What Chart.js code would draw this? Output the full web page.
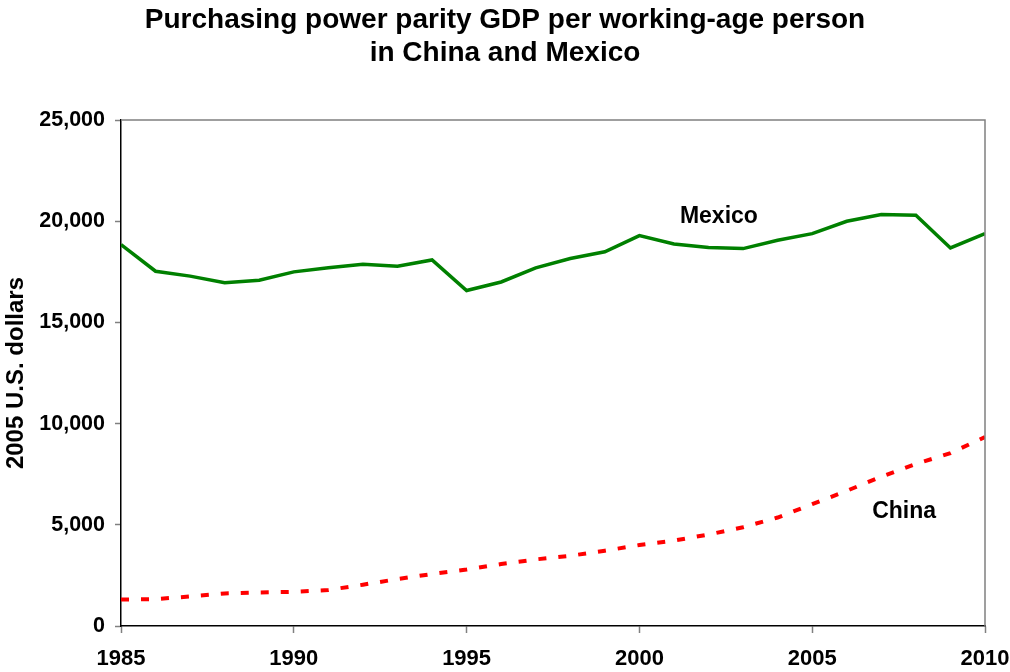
<!DOCTYPE html>
<html>
<head>
<meta charset="utf-8">
<script src="https://cdn.jsdelivr.net/npm/chart.js@4"></script>
<style>
  html, body { margin: 0; padding: 0; background: #fff; }
  #wrap { width: 1010px; height: 672px; }
</style>
</head>
<body>
<div id="wrap"><canvas id="myChart"></canvas></div>
<script>
// datos
const years = [1985, 1986, 1987, 1988, 1989, 1990, 1991, 1992, 1993, 1994, 1995, 1996, 1997,
  1998, 1999, 2000, 2001, 2002, 2003, 2004, 2005, 2006, 2007, 2008, 2009, 2010];
const mexico = [18850, 17530, 17290, 16960, 17090, 17500, 17700, 17880, 17780, 18090, 16580, 17000, 17700,
  18160, 18490, 19290, 18880, 18700, 18650, 19060, 19390, 20000, 20330, 20300, 18680, 19390];
const china = [1310, 1330, 1460, 1610, 1660, 1690, 1780, 2040, 2320, 2570, 2790, 3060, 3290,
  3470, 3720, 4000, 4220, 4520, 4880, 5360, 6020, 6680, 7380, 8010, 8540, 9340];
const seriesNames = ['Mexico', 'China'];
const labelPos = [[2002.3, 20250], [2007.66, 5650]]; // donde van los textos de las series
const yTicks = [0, 5000, 10000, 15000, 20000, 25000];
const xTicks = [1985, 1990, 1995, 2000, 2005, 2010];

const font = 'Liberation Sans, Arial, sans-serif';

// marco gris arriba y a la derecha + nombres de las series
const framePlugin = {
  id: 'framePlugin',
  afterDatasetsDraw(chart) {
    const { ctx, chartArea: a, scales } = chart;
    ctx.save();
    ctx.strokeStyle = '#808080';
    ctx.lineWidth = 1.5;
    ctx.beginPath();
    ctx.moveTo(a.left, a.top);
    ctx.lineTo(a.right, a.top);
    ctx.lineTo(a.right, a.bottom);
    ctx.stroke();

    ctx.fillStyle = '#000';
    ctx.font = 'bold 23px ' + font;
    ctx.textAlign = 'center';
    ctx.textBaseline = 'middle';
    seriesNames.forEach((name, i) => {
      const px = scales.x.getPixelForValue(labelPos[i][0]);
      const py = scales.y.getPixelForValue(labelPos[i][1]);
      ctx.fillText(name, px, py);
    });
    ctx.restore();
  }
};

const ctx = document.getElementById('myChart');
new Chart(ctx, {
  type: 'line',
  data: {
    datasets: [
      {
        label: seriesNames[0],
        data: years.map((y, i) => ({ x: y, y: mexico[i] })),
        borderColor: '#008000',
        borderWidth: 3.5,
        pointRadius: 0,
        tension: 0
      },
      {
        label: seriesNames[1],
        data: years.map((y, i) => ({ x: y, y: china[i] })),
        borderColor: '#ff0000',
        borderWidth: 4,
        borderDash: [8, 12],
        pointRadius: 0,
        tension: 0
      }
    ]
  },
  options: {
    responsive: true,
    maintainAspectRatio: false,
    animation: false,
    layout: { padding: { left: 0, right: 0, top: 0, bottom: 0 } },
    plugins: {
      legend: { display: false },
      tooltip: { enabled: false },
      title: {
        display: true,
        text: ['Purchasing power parity GDP per working-age person', 'in China and Mexico'],
        color: '#000',
        font: { family: font, size: 28, weight: 'bold', lineHeight: 1.18 },
        padding: { top: 4, bottom: 50 }
      }
    },
    scales: {
      x: {
        type: 'linear',
        min: 1985,
        max: 2010,
        afterBuildTicks: s => { s.ticks = xTicks.map(v => ({ value: v })); },
        afterFit: s => { s.height = 46; s.paddingRight = 25; },
        border: { color: '#000', width: 1.5 },
        grid: { drawOnChartArea: false, color: '#808080', tickLength: 7, tickWidth: 1.5 },
        ticks: {
          color: '#000',
          padding: 13,
          maxRotation: 0,
          font: { family: font, size: 22, weight: 'bold' },
          callback: v => String(v)
        }
      },
      y: {
        min: 0,
        max: 25000,
        afterBuildTicks: s => { s.ticks = yTicks.map(v => ({ value: v })); },
        afterFit: s => { s.width = 121; },
        border: { color: '#000', width: 1.5 },
        grid: { drawOnChartArea: false, color: '#808080', tickLength: 6, tickWidth: 1.5 },
        title: {
          display: true,
          text: '2005 U.S. dollars',
          color: '#000',
          font: { family: font, size: 24, weight: 'bold' },
          padding: { top: 2, bottom: 0 }
        },
        ticks: {
          color: '#000',
          padding: 10,
          font: { family: font, size: 21.5, weight: 'bold' },
          callback: v => v.toLocaleString('en-US')
        }
      }
    }
  },
  plugins: [framePlugin]
});
</script>
</body>
</html>
